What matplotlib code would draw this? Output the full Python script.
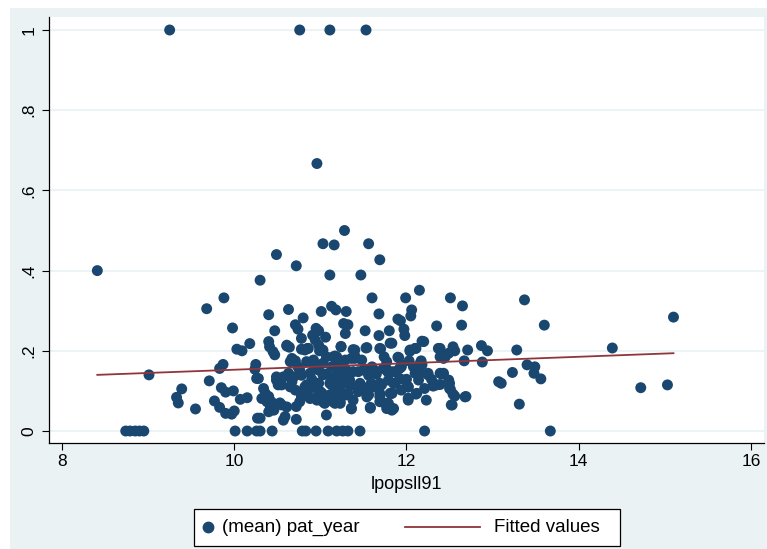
import matplotlib.pyplot as plt
from matplotlib.patches import Rectangle
from matplotlib.lines import Line2D

# (lpopsll91, mean pat_year)
top_points = [
    (9.25, 1.0), (10.76, 1.0), (11.11, 1.0), (11.53, 1.0), (10.96, 0.667),
    (8.41, 0.40), (10.49, 0.44), (10.72, 0.412), (11.28, 0.50), (11.03, 0.467),
    (11.16, 0.464), (11.56, 0.467), (11.69, 0.427), (11.11, 0.389), (11.47, 0.389),
    (10.30, 0.376), (12.15, 0.351), (11.60, 0.332), (11.99, 0.332), (9.88, 0.332),
    (12.51, 0.332), (13.37, 0.327), (12.65, 0.312), (9.68, 0.305), (10.63, 0.303),
    (10.40, 0.290), (11.01, 0.298), (11.13, 0.311), (11.18, 0.302), (11.30, 0.298),
    (10.80, 0.282), (11.68, 0.292), (12.06, 0.302), (12.05, 0.287), (11.90, 0.279),
    (11.93, 0.275), (15.10, 0.284), (10.71, 0.265), (10.74, 0.254), (11.27, 0.268),
    (11.32, 0.265), (12.35, 0.262), (12.64, 0.264), (13.60, 0.264), (9.98, 0.257),
]

mid_points = [
    (10.47, 0.250), (10.95, 0.256), (10.98, 0.250), (11.29, 0.243), (11.52, 0.250),
    (11.80, 0.250), (11.97, 0.254), (10.78, 0.231), (10.91, 0.239), (11.06, 0.234),
    (11.68, 0.238), (11.98, 0.238), (10.40, 0.223), (12.20, 0.223), (10.18, 0.218),
    (11.83, 0.219), (12.18, 0.224), (10.61, 0.214), (10.64, 0.209), (10.94, 0.227),
    (10.98, 0.214), (11.24, 0.211), (11.53, 0.207), (11.70, 0.205), (10.03, 0.204),
    (10.09, 0.200), (10.78, 0.204), (10.86, 0.206), (10.45, 0.198), (10.47, 0.190),
    (11.03, 0.202), (11.40, 0.202), (12.04, 0.202), (12.11, 0.206), (12.37, 0.206),
    (12.54, 0.210), (12.56, 0.200), (12.71, 0.202), (12.87, 0.213), (12.94, 0.200),
    (13.28, 0.202), (14.39, 0.207), (12.41, 0.194), (12.49, 0.194), (12.45, 0.185),
    (12.39, 0.185), (12.43, 0.181), (11.74, 0.185), (11.91, 0.183), (10.67, 0.181),
    (10.71, 0.175), (11.17, 0.187), (11.20, 0.177), (11.36, 0.181), (11.40, 0.187),
    (10.92, 0.177), (11.94, 0.165), (12.03, 0.175), (12.17, 0.175), (12.18, 0.165),
    (12.67, 0.175), (12.88, 0.172), (13.40, 0.165), (13.49, 0.160), (13.48, 0.144),
    (13.56, 0.130), (13.23, 0.146), (9.87, 0.166), (9.83, 0.156), (10.25, 0.166),
    (10.24, 0.154), (9.01, 0.140), (10.26, 0.131), (9.71, 0.125), (9.39, 0.105),
    (9.85, 0.108), (9.90, 0.097), (9.99, 0.100), (9.33, 0.084), (9.35, 0.070),
    (9.77, 0.075), (10.07, 0.079), (10.15, 0.083), (9.55, 0.055), (9.83, 0.059),
    (9.90, 0.044), (9.97, 0.042), (10.00, 0.050), (10.27, 0.032), (10.28, 0.131),
    (10.49, 0.135), (10.51, 0.115), (10.36, 0.094), (10.40, 0.086), (10.43, 0.073),
    (10.42, 0.061), (10.46, 0.052), (10.40, 0.048), (10.55, 0.065), (10.59, 0.036),
    (10.57, 0.027), (10.30, 0.032), (10.72, 0.061), (10.72, 0.029), (10.63, 0.144),
    (10.67, 0.123), (10.71, 0.102), (10.78, 0.086), (10.86, 0.102), (10.92, 0.110),
    (11.02, 0.094), (10.96, 0.077), (11.05, 0.069), (11.07, 0.040), (11.17, 0.069),
    (11.23, 0.073), (11.36, 0.055), (11.58, 0.057), (11.79, 0.069), (11.83, 0.052),
    (12.02, 0.077), (12.11, 0.092), (12.02, 0.110), (11.94, 0.102), (11.83, 0.094),
    (12.16, 0.144), (12.25, 0.140), (12.29, 0.129), (12.31, 0.112), (12.39, 0.116),
    (12.41, 0.142), (12.49, 0.127), (12.51, 0.104), (12.54, 0.092), (12.56, 0.087),
    (12.69, 0.086), (12.53, 0.065), (13.07, 0.123), (13.10, 0.119), (13.31, 0.067),
    (14.72, 0.108), (15.03, 0.115),
]

dense_points = [
    (10.61, 0.212), (10.85, 0.206), (10.99, 0.200), (11.24, 0.210), (11.38, 0.203),
    (11.54, 0.208), (11.69, 0.206), (11.90, 0.184), (12.04, 0.199), (12.10, 0.206),
    (10.65, 0.173), (10.84, 0.173), (10.92, 0.167), (11.03, 0.169), (11.13, 0.160),
    (11.19, 0.185), (11.29, 0.177), (11.40, 0.181), (11.50, 0.152), (11.61, 0.154),
    (11.73, 0.156), (11.78, 0.148), (11.94, 0.160), (12.08, 0.160), (12.16, 0.169),
    (12.39, 0.144), (10.69, 0.135), (10.78, 0.139), (10.90, 0.129), (10.98, 0.119),
    (11.07, 0.142), (11.17, 0.135), (11.29, 0.135), (11.38, 0.148), (11.46, 0.119),
    (11.56, 0.139), (11.65, 0.142), (11.69, 0.119), (11.79, 0.127), (11.87, 0.119),
    (12.00, 0.129), (12.10, 0.144), (12.14, 0.127), (12.35, 0.115), (12.43, 0.144),
    (12.50, 0.119), (10.65, 0.110), (10.82, 0.110), (11.00, 0.098), (11.13, 0.115),
    (11.23, 0.110), (11.32, 0.094), (11.42, 0.110), (11.52, 0.102), (11.61, 0.110),
    (11.69, 0.094), (11.81, 0.094), (12.12, 0.094), (12.50, 0.106), (10.38, 0.073),
    (10.53, 0.070), (10.61, 0.060), (11.03, 0.073), (11.15, 0.073), (11.75, 0.069),
    (11.77, 0.056), (11.85, 0.056), (12.52, 0.065), (12.68, 0.085), (10.34, 0.106),
    (10.49, 0.127), (10.55, 0.115), (10.57, 0.135), (10.32, 0.081), (10.41, 0.210),
    (10.74, 0.160), (10.98, 0.152), (11.23, 0.160), (11.34, 0.127), (11.59, 0.115),
    (11.85, 0.148), (12.02, 0.110), (11.54, 0.085), (11.11, 0.090), (10.88, 0.081),
    (10.76, 0.073), (11.38, 0.077), (11.69, 0.073), (12.21, 0.106), (12.23, 0.077),
    (11.77, 0.173), (11.48, 0.177), (11.07, 0.185), (11.60, 0.160), (11.92, 0.131),
]

packed_points = [
    (10.82, 0.202), (11.15, 0.185), (11.81, 0.219), (12.39, 0.206), (10.76, 0.152),
    (10.88, 0.144), (11.03, 0.140), (11.19, 0.144), (11.30, 0.152), (11.44, 0.148),
    (11.54, 0.152), (11.65, 0.148), (11.78, 0.152), (11.92, 0.156), (12.25, 0.144),
    (10.84, 0.115), (10.96, 0.119), (11.11, 0.119), (11.23, 0.123), (11.34, 0.115),
    (11.48, 0.111), (11.59, 0.119), (11.71, 0.115), (11.85, 0.119), (11.98, 0.127),
    (12.31, 0.115), (10.80, 0.094), (10.96, 0.086), (11.19, 0.094), (11.30, 0.090),
    (11.44, 0.098), (11.56, 0.090), (11.69, 0.086), (11.83, 0.094), (12.02, 0.082),
    (11.15, 0.073), (11.23, 0.069), (11.36, 0.057), (11.58, 0.059), (11.79, 0.061),
]

# places with a mean of exactly zero
zero_x = [8.74, 8.79, 8.85, 8.90, 8.95, 10.01, 10.15, 10.26, 10.30, 10.44,
          10.79, 10.83, 10.95, 11.09, 11.19, 11.26, 11.32, 11.46, 12.21, 13.67]

# fitted values line, ends
fit_x = [8.41, 15.10]
fit_y = [0.140, 0.194]

yticks = [0, 0.2, 0.4, 0.6, 0.8, 1]
ytick_labels = ['0', '.2', '.4', '.6', '.8', '1']
xticks = [8, 10, 12, 14, 16]

navy = '#1a476f'
maroon = '#90353b'
bg = '#eaf2f3'

plt.rcParams['font.family'] = ['Liberation Sans', 'DejaVu Sans']

all_points = (top_points + mid_points + dense_points + packed_points
              + [(x, 0.0) for x in zero_x])
px = [p[0] for p in all_points]
py = [p[1] for p in all_points]

W, H = 767, 549
fig = plt.figure(figsize=(W / 100, H / 100), dpi=100)
fig.patch.set_facecolor('white')
fig.add_artist(Rectangle((10 / W, 0), 757 / W, 541 / H, transform=fig.transFigure,
                         facecolor=bg, edgecolor='none', zorder=0))

ax = fig.add_axes([49 / W, 106 / H, 715 / W, 426 / H])
ax.set_facecolor('white')
ax.scatter(px, py, s=62, color=navy, edgecolors='none', zorder=3)
ax.plot(fit_x, fit_y, color=maroon, lw=1.3, zorder=4)

ax.set_xlim(7.849, 16.151)
ax.set_ylim(-0.0299, 1.0324)
ax.set_xticks(xticks)
ax.set_yticks(yticks)
ax.set_yticklabels(ytick_labels, rotation=90, va='center')
ax.tick_params(length=5, width=0.8, labelsize=12.5, colors='black')
ax.tick_params(axis='y', pad=4)
ax.tick_params(axis='x', pad=3)
ax.yaxis.grid(True, color=bg, lw=1.3)
ax.set_axisbelow(True)
for side in ['top', 'right']:
    ax.spines[side].set_visible(False)
for side in ['left', 'bottom']:
    ax.spines[side].set_linewidth(0.9)
ax.set_xlabel('lpopsll91', fontsize=13, labelpad=5)

# legend box drawn by hand so the marker key stays short
ly = 22 / H
fig.add_artist(Rectangle((194 / W, 3 / H), 426 / W, 37 / H, transform=fig.transFigure,
                         facecolor='white', edgecolor='black', lw=0.9, zorder=5))
fig.add_artist(Line2D([208 / W], [ly], transform=fig.transFigure, marker='o', ms=7.5,
                      color=navy, ls='none', zorder=6))
fig.text(222 / W, ly, '(mean) pat_year', fontsize=13.5, va='center', zorder=6)
fig.add_artist(Line2D([405 / W, 480 / W], [ly, ly], transform=fig.transFigure,
                      color=maroon, lw=1.3, zorder=6))
fig.text(494 / W, ly, 'Fitted values', fontsize=13.5, va='center', zorder=6)

fig.savefig('out.png', dpi=100)
